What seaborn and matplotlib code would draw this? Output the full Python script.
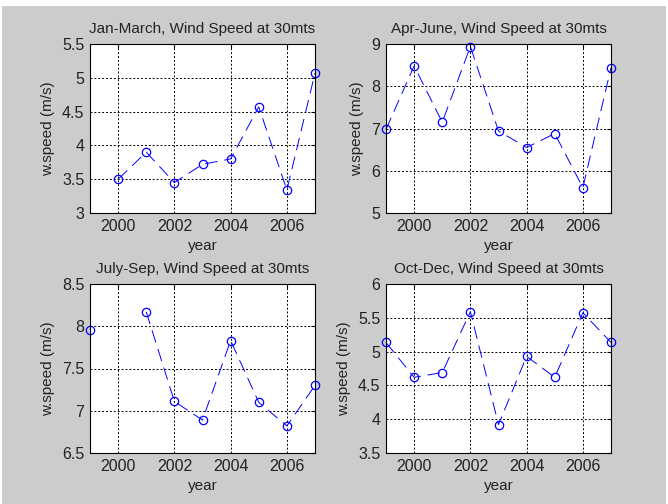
import numpy as np
import pandas as pd

import matplotlib
matplotlib.use("Agg")
import matplotlib.pyplot as plt
import seaborn as sns
from matplotlib.patches import Rectangle
from matplotlib.ticker import FormatStrFormatter, FuncFormatter

years = [1999, 2000, 2001, 2002, 2003, 2004, 2005, 2006, 2007]
jan_mar = [np.nan, 3.50, 3.90, 3.45, 3.72, 3.80, 4.57, 3.34, 5.07]
apr_jun = [6.98, 8.48, 7.15, 8.94, 6.94, 6.55, 6.88, 5.60, 8.44]
jul_sep = [7.95, np.nan, 8.17, 7.11, 6.89, 7.83, 7.10, 6.82, 7.30]
oct_dec = [5.135, 4.62, 4.69, 5.59, 3.92, 4.93, 4.62, 5.575, 5.135]

titles = ["Jan-March, Wind Speed at 30mts", "Apr-June, Wind Speed at 30mts",
          "July-Sep, Wind Speed at 30mts", "Oct-Dec, Wind Speed at 30mts"]
series = [jan_mar, apr_jun, jul_sep, oct_dec]
ylims = [(3, 5.5), (5, 9), (6.5, 8.5), (3.5, 6)]
ysteps = [0.5, 1, 0.5, 0.5]
xticks = [2000, 2002, 2004, 2006]

sns.set_style("white")
plt.rcParams['font.family'] = ['Liberation Sans', 'DejaVu Sans']
plt.rcParams['font.size'] = 11

fig = plt.figure(figsize=(6.68, 5.04), dpi=100, facecolor="white")
fig.patches.append(Rectangle((2 / 668, 0), 664 / 668, 498 / 504, transform=fig.transFigure,
                             facecolor="#cccccc", edgecolor="none", zorder=-10))

# axes boxes in pixels: left, top, right, bottom
boxes = [(90, 44, 315, 213), (386, 44, 611, 213), (90, 284, 315, 453), (386, 284, 611, 453)]
txt = "#222222"

for box, title, vals, yl, step in zip(boxes, titles, series, ylims, ysteps):
    l, t, r, b = box
    ax = fig.add_axes([l / 668, 1 - b / 504, (r - l) / 668, (b - t) / 504])
    ax.set_facecolor("white")
    df = pd.DataFrame({"year": years, "speed": vals})
    df["seg"] = df["speed"].isna().cumsum()
    df = df.dropna()
    sns.lineplot(data=df, x="year", y="speed", units="seg", estimator=None, ax=ax,
                 color="blue", linewidth=0.7, linestyle=(0, (13, 7)),
                 marker="o", markersize=6, markerfacecolor="none",
                 markeredgecolor="blue", markeredgewidth=0.9, clip_on=False)
    ax.set_xlim(1999, 2007)
    ax.set_ylim(*yl)
    ax.set_xticks(xticks)
    ax.set_yticks(np.arange(yl[0], yl[1] + step / 2, step))
    ax.yaxis.set_major_formatter(FuncFormatter(lambda v, p: "%g" % v))
    ax.xaxis.set_major_formatter(FormatStrFormatter("%d"))
    ax.grid(True, color="black", linestyle=(0, (2, 2)), linewidth=0.7)
    ax.tick_params(direction="in", length=3, labelsize=11.5, colors="black",
                   labelcolor=txt, top=True, right=True, pad=4)
    for s in ax.spines.values():
        s.set_color("black")
        s.set_linewidth(0.8)
    ax.set_title(title, fontsize=11, color=txt, pad=8)
    ax.set_xlabel("year", fontsize=11, color=txt, labelpad=4)
    ax.set_ylabel("w.speed (m/s)", fontsize=11, color=txt, labelpad=5)

fig.savefig("out.png", dpi=100, facecolor=fig.get_facecolor())
